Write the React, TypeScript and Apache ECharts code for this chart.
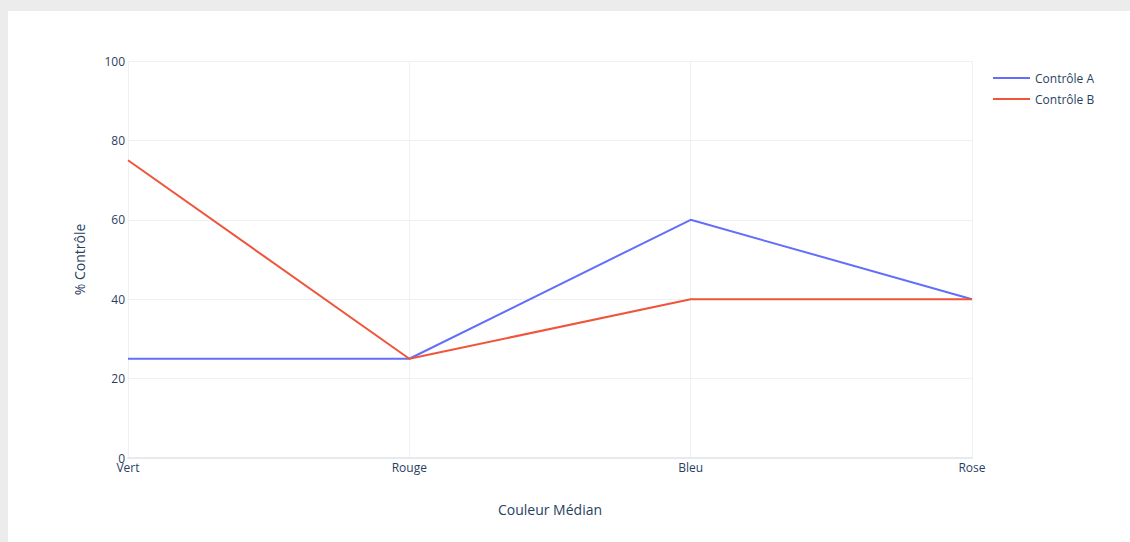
import React, { useEffect, useRef } from "react";
import * as echarts from "echarts";

const categories = ["Vert", "Rouge", "Bleu", "Rose"];
const controleA = [25, 25, 60, 40];
const controleB = [75, 25, 40, 40];
const seriesNames = ["Contrôle A", "Contrôle B"];
const yTicks = { min: 0, max: 100, interval: 20 };

const FONT = "'Open Sans', Verdana, Arial, sans-serif";
const TEXT = "#2a3f5f";

export default function App() {
  const ref = useRef<HTMLDivElement>(null);
  useEffect(() => {
    if (!ref.current) return;
    const chart = echarts.init(ref.current, undefined, { renderer: "svg" });
    chart.setOption({
      animation: false,
      backgroundColor: "#ffffff",
      textStyle: { fontFamily: FONT },
      grid: { left: 120, right: 158, top: 50, bottom: 84, containLabel: false },
      legend: {
        orient: "vertical",
        left: 980,
        top: 56,
        icon: "rect",
        itemWidth: 37,
        itemHeight: 2,
        itemGap: 9,
        textStyle: { fontFamily: FONT, fontSize: 12, color: TEXT, padding: [0, 0, 0, 0] },
        data: seriesNames,
      },
      xAxis: {
        type: "category",
        data: categories,
        boundaryGap: false,
        name: "Couleur Médian",
        nameLocation: "middle",
        nameGap: 44,
        nameTextStyle: { fontFamily: FONT, fontSize: 14, color: TEXT },
        axisLine: { show: true, onZero: true, lineStyle: { color: "#e6e9ee", width: 2 } },
        axisTick: { show: false },
        axisLabel: { fontFamily: FONT, fontSize: 12, color: TEXT, margin: 3 },
        splitLine: { show: true, lineStyle: { color: "#eef0f4", width: 1 } },
      },
      yAxis: {
        type: "value",
        min: yTicks.min,
        max: yTicks.max,
        interval: yTicks.interval,
        name: "% Contrôle",
        nameLocation: "middle",
        nameGap: 42,
        nameTextStyle: { fontFamily: FONT, fontSize: 14, color: TEXT },
        axisLine: { show: false },
        axisTick: { show: false },
        axisLabel: { fontFamily: FONT, fontSize: 12, color: TEXT, margin: 3 },
        splitLine: { show: true, lineStyle: { color: "#eef0f4", width: 1 } },
      },
      series: [
        {
          name: seriesNames[0],
          type: "line",
          data: controleA,
          symbol: "none",
          lineStyle: { color: "#636efa", width: 2 },
          itemStyle: { color: "#636efa" },
          z: 3,
        },
        {
          name: seriesNames[1],
          type: "line",
          data: controleB,
          symbol: "none",
          lineStyle: { color: "#ef553b", width: 2 },
          itemStyle: { color: "#ef553b" },
          z: 4,
        },
      ],
    });
    return () => chart.dispose();
  }, []);
  return (
    <div style={{ position: "fixed", left: 0, top: 0, width: 1130, height: 542, background: "#ececec" }}>
      <div ref={ref} style={{ position: "absolute", left: 8, top: 11, width: 1122, height: 531 }} />
    </div>
  );
}
